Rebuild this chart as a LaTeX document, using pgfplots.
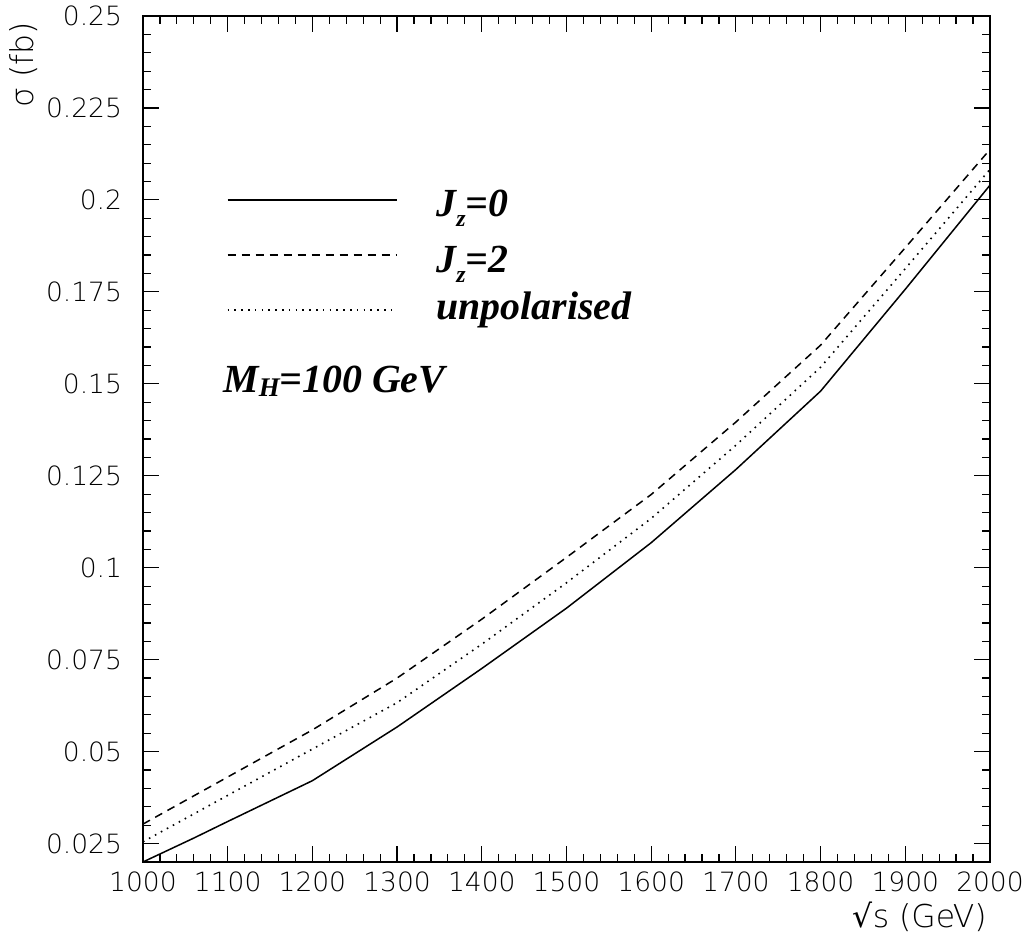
\documentclass[border=0pt]{standalone}
\usepackage{fontspec}
\setmainfont{Liberation Serif}
\newfontfamily\tickfont{DejaVu Sans ExtraLight}
\newfontfamily\dvs{DejaVu Sans}
\newfontfamily\legfont{Liberation Serif}
\usepackage{pgfplots}
\pgfplotsset{compat=1.18}
\pgfplotstableread{
x y
1000 0.0200
1060 0.0265
1100 0.0310
1200 0.0421
1300 0.0567
1400 0.0726
1500 0.0890
1600 0.1068
1700 0.1267
1800 0.1480
1900 0.1757
2000 0.2040
}\jzero
\pgfplotstableread{
x y
1000 0.0303
1100 0.0431
1200 0.0559
1300 0.0700
1400 0.0860
1500 0.1028
1600 0.1199
1700 0.1396
1800 0.1605
1900 0.1870
2000 0.2137
}\jtwo
\pgfplotstableread{
x y
1000 0.0255
1100 0.0381
1200 0.0507
1300 0.0633
1400 0.0792
1500 0.0959
1600 0.1134
1700 0.1333
1800 0.1545
1900 0.1813
2000 0.2083
}\unpol
\newcommand{\LF}{\legfont\bfseries\itshape\fontsize{20}{22}\selectfont}
\newcommand{\SUBZ}{\raisebox{-5bp}{\fontsize{12}{12}\selectfont z}}
\begin{document}
\begin{tikzpicture}
\begin{axis}[
  scale only axis, width=423.5bp, height=423bp,
  xmin=1000, xmax=2000, ymin=0.02, ymax=0.25,
  clip mode=individual,
  xtick={1000,1100,1200,1300,1400,1500,1600,1700,1800,1900,2000},
  xticklabels={1000,1100,1200,1300,1400,1500,1600,1700,1800,1900,2000},
  ytick={0.025,0.05,0.075,0.1,0.125,0.15,0.175,0.2,0.225,0.25},
  yticklabels={0.025,0.05,0.075,0.1,0.125,0.15,0.175,0.2,0.225,0.25},
  minor x tick num=4, minor y tick num=4,
  tick align=inside,
  major tick length=8bp, minor tick length=4bp,
  axis line style={line width=1bp},
  every tick/.style={black, line width=0.6bp},
  ticklabel style={font=\tickfont\fontsize{13.3}{16}\selectfont},
  yticklabel style={xshift=-7bp},
  xticklabel style={yshift=-1.5bp},
]
\addplot[black, line width=0.75bp] table[x=x,y=y]{\jzero};
\addplot[black, line width=0.75bp, dash pattern=on 4bp off 3bp] table[x=x,y=y]{\jtwo};
\addplot[black, line width=0.8bp, dash pattern=on 0.8bp off 2.6bp] table[x=x,y=y]{\unpol};
% legend lines
\addplot[black, line width=0.75bp] coordinates {(1100,0.2) (1300,0.2)};
\addplot[black, line width=0.75bp, dash pattern=on 4bp off 3bp] coordinates {(1100,0.185) (1300,0.185)};
\addplot[black, line width=0.8bp, dash pattern=on 0.8bp off 2.6bp] coordinates {(1100,0.170) (1300,0.170)};
\node[anchor=base west, inner sep=0pt] at (axis cs:1346,0.1955) {\LF J\SUBZ=0};
\node[anchor=base west, inner sep=0pt] at (axis cs:1346,0.1802) {\LF J\SUBZ=2};
\node[anchor=base west, inner sep=0pt] at (axis cs:1346,0.1674) {\LF unpolarised};
\node[anchor=base west, inner sep=0pt] at (axis cs:1094.5,0.1476) {\LF M\raisebox{-2bp}{\fontsize{13.5}{13.5}\selectfont H}=100 GeV};
\node[rotate=90, anchor=east, inner sep=0pt, font=\tickfont\fontsize{15.8}{18}\selectfont] at (rel axis cs:-0.1405,0.993) {σ (fb)};
\node[anchor=east, inner sep=0pt, font=\tickfont\fontsize{15.8}{18}\selectfont] at (rel axis cs:0.9965,-0.065) {{\dvs √}s (GeV)};
\coordinate (bl) at (rel axis cs:-0.1688,-0.0898);
\coordinate (tr) at (rel axis cs:1.0449,1.0189);
\end{axis}
\pgfresetboundingbox
\path[use as bounding box] (bl) rectangle (tr);
\end{tikzpicture}
\end{document}
